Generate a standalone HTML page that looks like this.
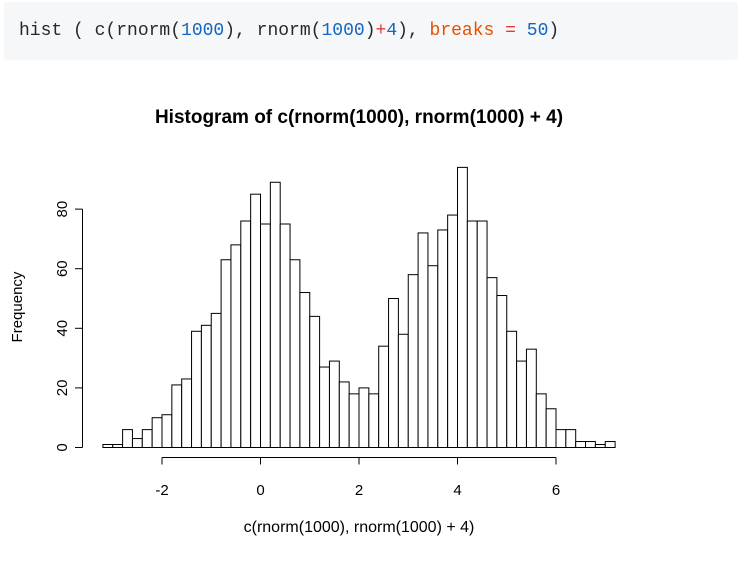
<!DOCTYPE html>
<html><head><meta charset="utf-8"><style>
body{margin:0;width:738px;height:576px;background:#fff;overflow:hidden;font-family:"Liberation Sans",sans-serif}
#code{position:absolute;left:4px;top:2px;width:734px;height:58px;background:#f6f7f9;border-radius:3px}
#code pre{margin:0;position:absolute;left:15px;top:19px;font:18px "Liberation Mono",monospace;color:#24292e}
.n{color:#1565c0}.o{color:#e53935}.k{color:#e65100}
svg{position:absolute;left:0;top:0}
</style></head><body>
<div id="code"><pre>hist ( c(rnorm(<span class="n">1000</span>), rnorm(<span class="n">1000</span>)<span class="o">+</span><span class="n">4</span>), <span class="k">breaks</span> <span class="o">=</span> <span class="n">50</span>)</pre></div>
<svg id="chart" width="738" height="576"></svg>
<script>
const binStart=-3.2, binWidth=0.2;
const counts=[1,1,6,3,6,10,11,21,23,39,41,45,63,68,76,85,75,89,75,63,52,44,27,29,22,18,20,18,34,50,38,58,72,61,73,78,94,76,76,57,51,39,29,33,18,13,6,6,2,2,1,2];
const xTicks=[-2,0,2,4,6];
const yTicks=[0,20,40,60,80];
const NS="http://www.w3.org/2000/svg";
const svg=document.getElementById('chart');
const xs=v=>162+(v+2)*49.25;
const ys=v=>447.5-v*2.98;
function mk(t,a,txt){const e=document.createElementNS(NS,t);for(const k in a)e.setAttribute(k,a[k]);if(txt!=null)e.textContent=txt;svg.appendChild(e);return e;}
counts.forEach((c,i)=>{
 const x0=xs(binStart+i*binWidth),x1=xs(binStart+(i+1)*binWidth);
 const r=mk('rect',{x:x0,y:ys(c),width:x1-x0,height:ys(0)-ys(c),fill:'#fff',stroke:'#000','stroke-width':1});
 
 
});
let a=mk('line',{x1:xs(xTicks[0]),x2:xs(xTicks[xTicks.length-1]),y1:457.5,y2:457.5,stroke:'#000'});


xTicks.forEach(t=>{
 mk('line',{x1:xs(t),x2:xs(t),y1:457.5,y2:464.5,stroke:'#000'});
 const l=mk('text',{x:xs(t),y:495,'text-anchor':'middle','font-size':15},String(t));
 
 
});
a=mk('line',{x1:82.5,x2:82.5,y1:ys(yTicks[0]),y2:ys(yTicks[yTicks.length-1]),stroke:'#000'});


yTicks.forEach(t=>{
 mk('line',{x1:75,x2:82.5,y1:ys(t),y2:ys(t),stroke:'#000'});
 const l=mk('text',{x:0,y:0,'text-anchor':'middle','font-size':15,transform:`translate(67,${ys(t)}) rotate(-90)`},String(t));
 
 
});
let t=mk('text',{x:359,y:123,'text-anchor':'middle','font-size':19,'font-weight':'bold'},'Histogram of c(rnorm(1000), rnorm(1000) + 4)');


t=mk('text',{x:359,y:532,'text-anchor':'middle','font-size':16},'c(rnorm(1000), rnorm(1000) + 4)');


t=mk('text',{x:0,y:0,'text-anchor':'middle','font-size':15,transform:'translate(22,307) rotate(-90)'},'Frequency');


</script>
</body></html>
